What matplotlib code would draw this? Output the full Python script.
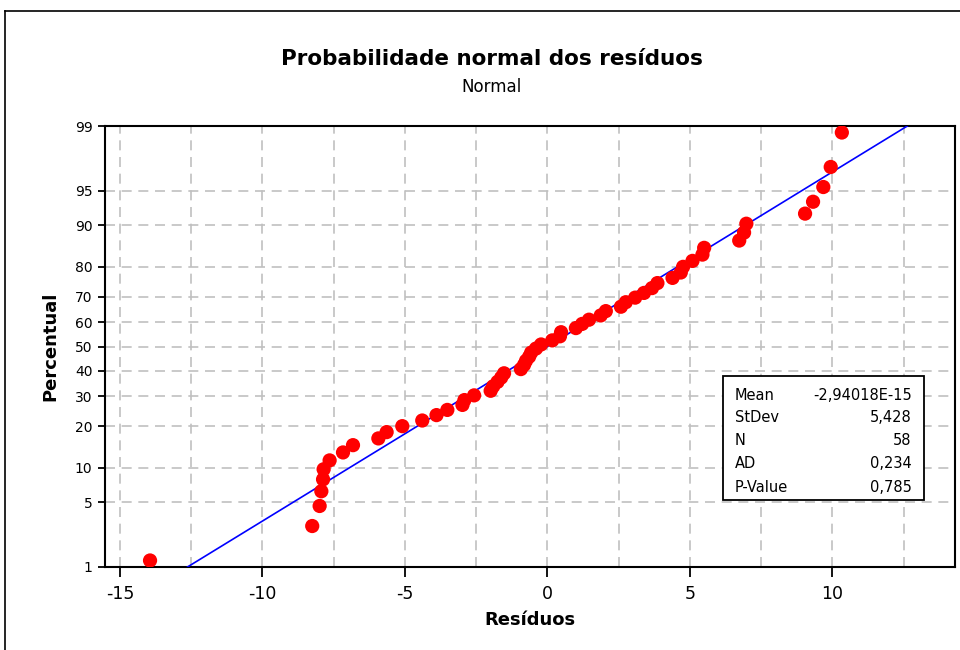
import matplotlib
matplotlib.use("Agg")
import matplotlib.pyplot as plt
import numpy as np
from matplotlib.lines import Line2D
from matplotlib.patches import Rectangle
from statistics import NormalDist

# residuos ordenados
residuos = [-13.94, -8.25, -7.99, -7.93, -7.87, -7.85, -7.64, -7.17, -6.82, -5.93,
            -5.64, -5.09, -4.39, -3.89, -3.51, -2.98, -2.91, -2.57, -1.99, -1.90,
            -1.75, -1.62, -1.52, -0.93, -0.82, -0.75, -0.64, -0.57, -0.40, -0.22,
            0.17, 0.44, 0.48, 1.00, 1.22, 1.46, 1.87, 2.05, 2.58, 2.75,
            3.08, 3.39, 3.67, 3.86, 4.39, 4.68, 4.76, 5.09, 5.44, 5.50,
            6.73, 6.90, 6.98, 9.04, 9.32, 9.68, 9.94, 10.33]

media = -2.94018e-15
desvio = 5.428

stat_names = ["Mean", "StDev", "N", "AD", "P-Value"]
stat_values = ["-2,94018E-15", "5,428", "58", "0,234", "0,785"]

y_ticks = [1, 5, 10, 20, 30, 40, 50, 60, 70, 80, 90, 95, 99]
x_ticks = [-15, -10, -5, 0, 5, 10]

nd = NormalDist()
_ppf = np.vectorize(lambda v: nd.inv_cdf(v), otypes=[float])
_cdf = np.vectorize(lambda v: nd.cdf(v), otypes=[float])


def forward(p):
    p = np.clip(np.asarray(p, dtype=float), 1e-9, 100 - 1e-9)
    return _ppf(p / 100.0)


def inverse(z):
    return _cdf(np.asarray(z, dtype=float)) * 100.0


n = len(residuos)
rank = np.arange(1, n + 1)
percent = 100.0 * (rank - 0.3) / (n + 0.4)  # posicoes de Minitab

pct_fit = np.array([1.0, 99.0])
x_fit = media + desvio * forward(pct_fit)

fig = plt.figure(figsize=(9.6, 6.5), dpi=100)
ax = fig.add_axes([105/960, 1 - 567/650, 850/960, 441/650])
ax.set_yscale('function', functions=(forward, inverse))

ax.plot(x_fit, pct_fit, color='#0000ff', lw=1.2, zorder=3)
ax.scatter(residuos, percent, s=105, color='#ff0000', edgecolors='none', zorder=4)

ax.set_xlim(-15.52, 14.3)
ax.set_ylim(1, 99)
ax.set_xticks(x_ticks)
ax.set_xticks(np.arange(-12.5, 14, 5), minor=True)
ax.set_yticks(y_ticks)
ax.set_yticks([], minor=True)
ax.set_yticklabels([str(t) for t in y_ticks], fontsize=10)
ax.set_xticklabels([str(t) for t in x_ticks], fontsize=12.5)
ax.tick_params(axis='x', which='major', length=7, width=1.3, direction='out', pad=6)
ax.tick_params(axis='x', which='minor', length=0)
ax.tick_params(axis='y', length=5, width=1.3, direction='out', pad=4)

ax.grid(True, which='both', axis='x', color='#c0c0c0', ls=(0, (6, 4)), lw=1.2)
ax.grid(True, which='major', axis='y', color='#c0c0c0', ls=(0, (6, 4)), lw=1.2)
ax.set_axisbelow(True)
for s in ax.spines.values():
    s.set_linewidth(1.5)
    s.set_color('black')

ax.set_xlabel('Resíduos', fontsize=13, fontweight='bold', labelpad=6)
ax.set_ylabel('Percentual', fontsize=13, fontweight='bold', labelpad=11)

fig.text(0.512, 0.909, 'Probabilidade normal dos resíduos', ha='center', va='center',
         fontsize=15.5, fontweight='bold')
fig.text(0.512, 0.866, 'Normal', ha='center', va='center', fontsize=12)

# caixa de estatisticas
ax.add_patch(Rectangle((0.727, 0.152), 0.2365, 0.281, transform=ax.transAxes,
                       facecolor='white', edgecolor='black', lw=1.3, zorder=5))
row_y = [0.390, 0.338, 0.286, 0.234, 0.181]
for name, val, yy in zip(stat_names, stat_values, row_y):
    ax.text(0.741, yy, name, transform=ax.transAxes, ha='left', va='center',
            fontsize=10.5, zorder=6)
    ax.text(0.949, yy, val, transform=ax.transAxes, ha='right', va='center',
            fontsize=10.5, zorder=6)

# moldura externa
fig.add_artist(Line2D([5/960, 1], [1 - 11/650, 1 - 11/650], color='black', lw=1.2,
                      transform=fig.transFigure))
fig.add_artist(Line2D([5/960, 5/960], [0, 1 - 11/650], color='black', lw=1.2,
                      transform=fig.transFigure))

fig.savefig('out.png', dpi=100)
